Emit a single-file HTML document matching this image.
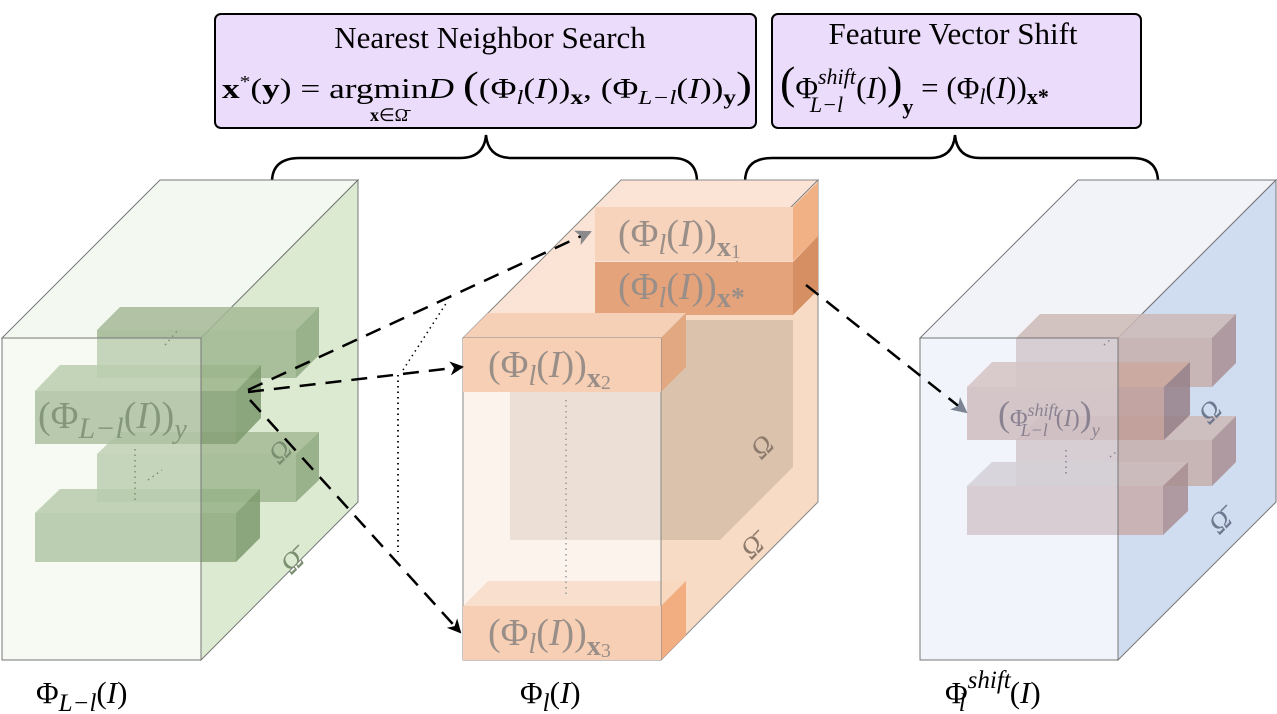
<!DOCTYPE html>
<html><head><meta charset="utf-8"><style>
html,body{margin:0;padding:0;background:#fff}
svg{display:block}
.m{font-family:"Liberation Serif",serif}
.i{font-style:italic}
</style></head><body>
<svg width="1277" height="714" viewBox="0 0 1277 714" xmlns="http://www.w3.org/2000/svg">
<defs>
<marker id="ah" markerWidth="14" markerHeight="14" refX="12" refY="7" orient="auto" markerUnits="userSpaceOnUse"><path d="M0,0 L14,7 L0,14 L4,7z" fill="#000"/></marker>
<marker id="ag" markerWidth="16" markerHeight="16" refX="14" refY="8" orient="auto" markerUnits="userSpaceOnUse"><path d="M0,0 L16,8 L0,16 L4,8z" fill="#8a8a8a"/></marker>
<marker id="ab" markerWidth="16" markerHeight="16" refX="14" refY="8" orient="auto" markerUnits="userSpaceOnUse"><path d="M0,0 L16,8 L0,16 L4,8z" fill="#7c8494"/></marker>
</defs>

<!-- Boxes -->
<rect x="215" y="14" width="541" height="114" rx="6" fill="#ebdcfb" stroke="#000" stroke-width="2"/>
<rect x="772" y="14" width="369" height="114" rx="6" fill="#ebdcfb" stroke="#000" stroke-width="2"/>
<text x="490" y="48" class="m" font-size="31" text-anchor="middle">Nearest Neighbor Search</text>
<text x="953" y="44" class="m" font-size="31" text-anchor="middle">Feature Vector Shift</text>
<text x="222" y="98" class="m" font-size="28" textLength="530" lengthAdjust="spacingAndGlyphs"><tspan font-weight="bold">x</tspan><tspan font-size="17" dy="-11">*</tspan><tspan dy="11">(</tspan><tspan font-weight="bold">y</tspan>) = argmin<tspan class="i">D</tspan> <tspan font-size="38">(</tspan>(Φ<tspan class="i" font-size="20" dy="6">l</tspan><tspan dy="-6">(</tspan><tspan class="i">I</tspan>))<tspan font-size="20" font-weight="bold" dy="6">x</tspan><tspan dy="-6">, (Φ</tspan><tspan class="i" font-size="20" dy="6">L−l</tspan><tspan dy="-6">(</tspan><tspan class="i">I</tspan>))<tspan font-size="20" font-weight="bold" dy="6">y</tspan><tspan font-size="38" dy="-6">)</tspan></text>
<text x="370" y="121" class="m" font-size="18"><tspan font-weight="bold">x</tspan>∈Ω̄</text>
<text x="780" y="98" class="m" font-size="31"><tspan font-size="46">(</tspan>Φ<tspan class="i" font-size="22" dy="-14">shift</tspan><tspan class="i" font-size="22" dx="-46" dy="28">L−l</tspan><tspan dy="-14" dx="13">(</tspan><tspan class="i">I</tspan>)<tspan font-size="46">)</tspan><tspan font-size="22" font-weight="bold" dy="16">y</tspan><tspan dy="-16"> = (Φ</tspan><tspan class="i" font-size="22" dy="6">l</tspan><tspan dy="-6">(</tspan><tspan class="i">I</tspan>))<tspan font-size="22" font-weight="bold" dy="6">x*</tspan></text>

<!-- Braces -->
<path d="M272,182 Q272,158 300,158 L460,158 Q484,158 486,135 Q488,158 512,158 L672,158 Q697,158 697,182" fill="none" stroke="#000" stroke-width="2.5"/>
<path d="M745,182 Q745,158 772,158 L930,158 Q953,158 955,135 Q957,158 980,158 L1132,158 Q1158,158 1158,182" fill="none" stroke="#000" stroke-width="2.5"/>

<!-- GREEN CUBE -->
<polygon points="2,338 160,180 358,180 201,338" fill="#f3f8f0" stroke="#777" stroke-width="1"/>
<polygon points="201,338 358,180 358,502 201,660" fill="#dbead0" stroke="#777" stroke-width="1"/>
<g fill-opacity="0.85">
<polygon points="97,330 120,307 319,307 296,330" fill="#a4ba96"/>
<rect x="97" y="330" width="199" height="48" fill="#a0b792"/>
<polygon points="296,330 319,307 319,355 296,378" fill="#8ea87f"/>
<polygon points="97,454 120,432 319,432 296,454" fill="#a4ba96"/>
<rect x="97" y="454" width="199" height="48" fill="#a0b792"/>
<polygon points="296,454 319,432 319,480 296,502" fill="#8ea87f"/>
<polygon points="35,391 60,365 261,365 236,391" fill="#9cb58c"/>
<rect x="35" y="391" width="201" height="53" fill="#86a077"/>
<polygon points="236,391 261,365 261,418 236,444" fill="#7d9a6d"/>
<polygon points="35,513 60,489 260,489 236,513" fill="#98b288"/>
<rect x="35" y="513" width="201" height="49" fill="#8ea97f"/>
<polygon points="236,513 260,489 260,538 236,562" fill="#7d9a6d"/>
</g>
<rect x="2" y="338" width="199" height="322" fill="#e8f2e2" fill-opacity="0.4" stroke="#777" stroke-width="1"/>
<text x="38" y="428" class="m" font-size="38" fill="#7a8f70" fill-opacity="0.85">(Φ<tspan class="i" font-size="30" dy="10">L−l</tspan><tspan dy="-10">(</tspan><tspan class="i">I</tspan>))<tspan class="i" font-size="28" dy="10">y</tspan></text>
<text x="268" y="462" class="m i" font-size="28" fill="#7a8f70" transform="rotate(-45 278 450)">Ω</text>
<text x="280" y="572" class="m i" font-size="28" fill="#7a8f70" transform="rotate(-45 290 560)">Ω̄</text>
<path d="M165,345 L178,330 M135,500 L135,445 M148,480 L162,470" stroke="#7a8f70" stroke-width="1.5" stroke-dasharray="1.5,4" fill="none"/>

<!-- ORANGE CUBE -->
<polygon points="463,338 621,180 818,180 661,338" fill="#fbe4d5" stroke="#888" stroke-width="1"/>
<polygon points="661,338 818,180 818,502 661,660" fill="#f8dbc4" stroke="#888" stroke-width="1"/>
<polygon points="510,392 583,320 793,320 793,467 720,540 510,540" fill="#b8a593" fill-opacity="0.45"/>
<rect x="595" y="207" width="198" height="54" fill="#f7d3bb"/>
<polygon points="793,207 818,182 818,236 793,261" fill="#f2b184"/>
<rect x="595" y="262" width="198" height="53" fill="#e5a37b"/>
<polygon points="793,262 818,236 818,290 793,315" fill="#d58f62"/>
<polygon points="463,338 488,313 686,313 661,338" fill="#f6d0b6"/>
<polygon points="661,338 686,313 686,367 661,392" fill="#e2a882"/>
<polygon points="463,606 488,581 686,581 661,606" fill="#f9d8c0"/>
<polygon points="661,606 686,581 686,635 661,660" fill="#f2ad80"/>
<rect x="463" y="338" width="198" height="322" fill="#fae8dc" fill-opacity="0.5" stroke="#888" stroke-width="1"/>
<rect x="463" y="338" width="198" height="54" fill="#f7cfb4"/>
<rect x="463" y="606" width="198" height="54" fill="#f7cfb4"/>
<line x1="566" y1="400" x2="566" y2="598" stroke="#999" stroke-width="1.5" stroke-dasharray="1.5,4"/>
<g class="m" fill="#9a8f88" font-size="38">
<text x="618" y="246">(Φ<tspan class="i" font-size="28" dy="8">l</tspan><tspan dy="-8">(</tspan><tspan class="i">I</tspan>))<tspan font-size="28" font-weight="bold" dy="10">x</tspan><tspan font-size="20" dy="2">1</tspan></text>
<text x="618" y="299">(Φ<tspan class="i" font-size="28" dy="8">l</tspan><tspan dy="-8">(</tspan><tspan class="i">I</tspan>))<tspan font-size="28" font-weight="bold" dy="8">x*</tspan></text>
<text x="488" y="377">(Φ<tspan class="i" font-size="28" dy="8">l</tspan><tspan dy="-8">(</tspan><tspan class="i">I</tspan>))<tspan font-size="28" font-weight="bold" dy="10">x</tspan><tspan font-size="20" dy="2">2</tspan></text>
<text x="488" y="645">(Φ<tspan class="i" font-size="28" dy="8">l</tspan><tspan dy="-8">(</tspan><tspan class="i">I</tspan>))<tspan font-size="28" font-weight="bold" dy="10">x</tspan><tspan font-size="20" dy="2">3</tspan></text>
</g>
<text x="750" y="457" class="m i" font-size="28" fill="#8c7a6c" transform="rotate(-45 760 445)">Ω</text>
<text x="740" y="557" class="m i" font-size="28" fill="#8c7a6c" transform="rotate(-45 750 545)">Ω̄</text>

<!-- BLUE CUBE -->
<polygon points="920,338 1078,180 1276,180 1118,338" fill="#f1f3f9" stroke="#777" stroke-width="1"/>
<polygon points="1118,338 1276,180 1276,502 1118,660" fill="#d0dcef" stroke="#777" stroke-width="1"/>
<g fill-opacity="0.85">
<polygon points="1016,338 1040,314 1236,314 1212,338" fill="#cdb8b6"/>
<rect x="1016" y="338" width="196" height="49" fill="#c7aeac"/>
<polygon points="1212,338 1236,314 1236,363 1212,387" fill="#a88e92"/>
<polygon points="1016,440 1040,416 1236,416 1212,440" fill="#cdb8b6"/>
<rect x="1016" y="440" width="196" height="46" fill="#c7aeac"/>
<polygon points="1212,440 1236,416 1236,462 1212,486" fill="#a88e92"/>
<polygon points="967,387 992,362 1190,362 1164,387" fill="#cba89e"/>
<rect x="967" y="387" width="197" height="53" fill="#bf9b94"/>
<polygon points="1164,387 1190,362 1190,415 1164,440" fill="#978088"/>
<polygon points="967,486 992,462 1188,462 1163,486" fill="#cbbcbe"/>
<rect x="967" y="486" width="196" height="49" fill="#c8acaa"/>
<polygon points="1163,486 1188,462 1188,511 1163,535" fill="#a88e92"/>
</g>
<rect x="920" y="338" width="198" height="322" fill="#dfe6f4" fill-opacity="0.45" stroke="#777" stroke-width="1"/>
<text x="998" y="426" class="m" fill="#8a8290" font-size="24"><tspan font-size="36">(</tspan>Φ<tspan class="i" font-size="18" dy="-10">shift</tspan><tspan class="i" font-size="18" dx="-38" dy="20">L−l</tspan><tspan dy="-10" dx="8">(</tspan><tspan class="i">I</tspan>)<tspan font-size="36">)</tspan><tspan class="i" font-size="18" dy="10">y</tspan></text>
<text x="1198" y="422" class="m i" font-size="28" fill="#6e7890" transform="rotate(-45 1208 410)">Ω</text>
<text x="1208" y="532" class="m i" font-size="28" fill="#6e7890" transform="rotate(-45 1218 520)">Ω̄</text>
<path d="M1066,450 L1066,475 M1104,345 L1110,340 M1110,457 L1116,452" stroke="#8a8290" stroke-width="1.5" stroke-dasharray="1.5,4" fill="none"/>

<!-- Connectors -->
<path d="M403,370 L447,302" stroke="#000" stroke-width="1.5" stroke-dasharray="1.5,4" fill="none"/>
<path d="M398,375 L398,552" stroke="#000" stroke-width="1.8" stroke-dasharray="1.5,4" fill="none"/>
<path d="M248,390 L590,232" stroke="#000" stroke-width="2.5" stroke-dasharray="16,10" fill="none" marker-end="url(#ag)"/>
<path d="M248,392 L462,367" stroke="#000" stroke-width="2.5" stroke-dasharray="16,10" fill="none" marker-end="url(#ah)"/>
<path d="M250,400 L460,632" stroke="#000" stroke-width="2.5" stroke-dasharray="16,10" fill="none" marker-end="url(#ah)"/>
<path d="M806,285 L966,412" stroke="#000" stroke-width="2.5" stroke-dasharray="16,10" fill="none" marker-end="url(#ab)"/>

<!-- Bottom labels -->
<g class="m" font-size="31">
<text x="36" y="703">Φ<tspan class="i" font-size="25" dy="8">L−l</tspan><tspan dy="-8">(</tspan><tspan class="i">I</tspan>)</text>
<text x="520" y="703">Φ<tspan class="i" font-size="25" dy="8">l</tspan><tspan dy="-8">(</tspan><tspan class="i">I</tspan>)</text>
<text x="945" y="703">Φ<tspan class="i" font-size="25" dy="-15">shift</tspan><tspan class="i" font-size="25" dx="-52" dy="23">l</tspan><tspan dy="-8" dx="44">(</tspan><tspan class="i">I</tspan>)</text>
</g>
</svg>
</body></html>
